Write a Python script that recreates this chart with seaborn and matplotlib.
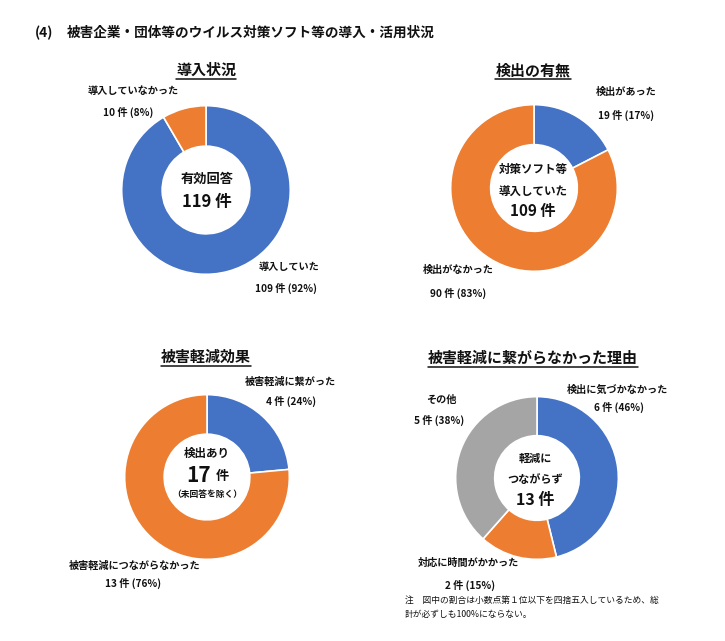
import matplotlib
matplotlib.use("Agg")
import matplotlib.pyplot as plt
from matplotlib.lines import Line2D
import seaborn as sns

# ---- data ----
intro_labels = ["導入していた", "導入していなかった"]
intro_counts = [109, 10]
intro_pcts = [92, 8]

detect_labels = ["検出があった", "検出がなかった"]
detect_counts = [19, 90]
detect_pcts = [17, 83]

effect_labels = ["被害軽減に繋がった", "被害軽減につながらなかった"]
effect_counts = [4, 13]
effect_pcts = [24, 76]

reason_labels = ["検出に気づかなかった", "対応に時間がかかった", "その他"]
reason_counts = [6, 2, 5]
reason_pcts = [46, 15, 38]

titles = ["導入状況", "検出の有無", "被害軽減効果", "被害軽減に繋がらなかった理由"]
main_title = "被害企業・団体等のウイルス対策ソフト等の導入・活用状況"
note_lines = ["注　図中の割合は小数点第１位以下を四捨五入しているため、総",
              "計が必ずしも100%にならない。"]

# ---- style ----
sns.set_theme(style="white")
plt.rcParams['font.family'] = ['Noto Sans CJK JP', 'DejaVu Sans']

pal = sns.color_palette(["#4472C4", "#ED7D31", "#A5A5A5"])

W, H = 725, 641
fig = plt.figure(figsize=(W / 100, H / 100), dpi=100)
fig.patch.set_facecolor("white")


def fx(x):
    return x / W


def fy(y):
    return 1 - y / H


def make_pie(cx, cy, r, counts, colors):
    ax = fig.add_axes([fx(cx - r), fy(cy + r), 2 * r / W, 2 * r / H])
    ax.pie(counts, colors=colors, startangle=90, counterclock=False,
           radius=1.0,
           wedgeprops=dict(width=0.48, edgecolor="white", linewidth=1.2))
    ax.set_xlim(-1.02, 1.02)
    ax.set_ylim(-1.02, 1.02)
    ax.set_aspect("equal")
    ax.axis("off")
    return ax


def txt(x, y, s, size, weight="bold", ha="center"):
    return fig.text(fx(x), fy(y), s, fontsize=size, fontweight=weight,
                    ha=ha, va="center", color="#111111")


def cnt(n, p):
    return f"{n} 件 ({p}%)"


# main title
txt(35, 33, "(4)", 10, ha="left")
txt(67, 33, main_title, 9.8, ha="left")

# pies
make_pie(206, 190, 86, intro_counts, [pal[0], pal[1]])
make_pie(534, 188, 85, detect_counts, [pal[0], pal[1]])
make_pie(207, 477, 84, effect_counts, [pal[0], pal[1]])
make_pie(537, 478, 83, reason_counts, [pal[0], pal[1], pal[2]])

# subplot titles (underlined)
title_pos = [(206, 70), (533, 70), (206, 357), (533, 358)]
title_artists = []
for t, (x, y) in zip(titles, title_pos):
    title_artists.append(txt(x, y, t, 10.8))

# pie 1 labels
lab = 7.3
txt(133, 91, intro_labels[1], lab)
txt(128, 112, cnt(intro_counts[1], intro_pcts[1]), lab)
txt(289, 267, intro_labels[0], lab)
txt(286, 288, cnt(intro_counts[0], intro_pcts[0]), lab)
txt(207, 179, "有効回答", 9.5)
txt(207, 202, f"{sum(intro_counts)} 件", 12)

# pie 2 labels
txt(626, 92, detect_labels[0], lab)
txt(626, 115, cnt(detect_counts[0], detect_pcts[0]), lab)
txt(458, 270, detect_labels[1], lab)
txt(458, 293, cnt(detect_counts[1], detect_pcts[1]), lab)
txt(533, 170, "対策ソフト等", 8.3)
txt(533, 192, "導入していた", 8.3)
txt(533, 211, f"{sum(detect_counts)} 件", 11)

# pie 3 labels
txt(290, 382, effect_labels[0], lab)
txt(291, 401, cnt(effect_counts[0], effect_pcts[0]), lab)
txt(135, 566, effect_labels[1], lab)
txt(133, 583, cnt(effect_counts[1], effect_pcts[1]), lab)
txt(207, 453, "検出あり", 8.3)
txt(211, 475, f"{sum(effect_counts)}", 15, ha="right")
txt(216, 476, "件", 9.5, ha="left")
txt(207, 495, "（未回答を除く）", 6.3)

# pie 4 labels
txt(617, 390, reason_labels[0], lab)
txt(619, 407, cnt(reason_counts[0], reason_pcts[0]), lab)
txt(468, 563, reason_labels[1], lab)
txt(470, 585, cnt(reason_counts[1], reason_pcts[1]), lab)
txt(441, 400, reason_labels[2], lab)
txt(439, 420, cnt(reason_counts[2], reason_pcts[2]), lab)
txt(535, 458, "軽減に", 8)
txt(535, 480, "つながらず", 8)
txt(535, 500, f"{sum(reason_counts)} 件", 11.5)

# note
txt(405, 600, note_lines[0], 6.3, weight="normal", ha="left")
txt(405, 614, note_lines[1], 6.3, weight="normal", ha="left")

# underline titles
fig.canvas.draw()
rend = fig.canvas.get_renderer()
for a in title_artists:
    bb = a.get_window_extent(renderer=rend)
    yline = bb.y0 - 1
    fig.add_artist(Line2D([bb.x0 / W, bb.x1 / W], [yline / H, yline / H],
                          transform=fig.transFigure, color="#111111",
                          linewidth=1.1))

fig.savefig("out.png", dpi=100, facecolor="white")
